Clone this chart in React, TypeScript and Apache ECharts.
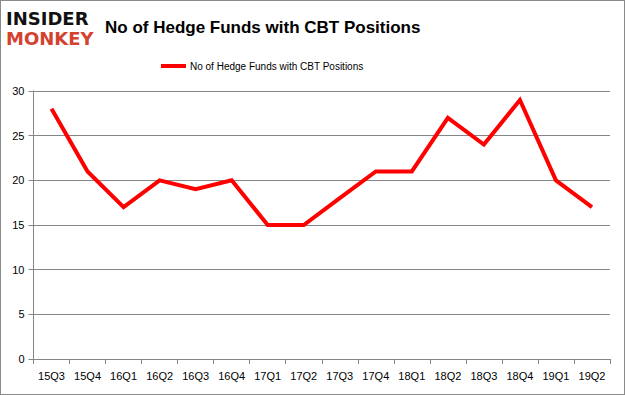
import React, { useEffect, useRef } from "react";
import * as echarts from "echarts";

const categories = ["15Q3", "15Q4", "16Q1", "16Q2", "16Q3", "16Q4", "17Q1", "17Q2", "17Q3", "17Q4", "18Q1", "18Q2", "18Q3", "18Q4", "19Q1", "19Q2"];
const hedgeFunds = [28, 21, 17, 20, 19, 20, 15, 15, 18, 21, 21, 27, 24, 29, 20, 17];
const seriesName = "No of Hedge Funds with CBT Positions";
const titleText = "No of Hedge Funds with CBT Positions";

export default function App() {
  const ref = useRef<HTMLDivElement>(null);
  useEffect(() => {
    if (!ref.current) return;
    const chart = echarts.init(ref.current, undefined, { renderer: "svg" });
    const font = "Liberation Sans, Arial, sans-serif";
    chart.setOption({
      animation: false,
      backgroundColor: "#ffffff",
      title: {
        text: titleText,
        left: 99,
        top: 13,
        textStyle: { fontFamily: font, fontSize: 17, fontWeight: "bold", color: "#000" },
      },
      legend: {
        data: [seriesName],
        top: 55,
        left: 155,
        itemWidth: 25,
        itemHeight: 4,
        itemGap: 4,
        icon: "rect",
        textStyle: { fontFamily: font, fontSize: 10, color: "#000", padding: [0, 0, 0, -1] },
      },
      graphic: [
        {
          type: "text",
          left: 5,
          top: 8,
          style: { text: "INSIDER", fontFamily: "DejaVu Sans, sans-serif", fontSize: 18, fontWeight: 900, fill: "#111" },
        },
        {
          type: "text",
          left: 5,
          top: 28,
          style: { text: "MONKEY", fontFamily: "DejaVu Sans, sans-serif", fontSize: 18, fontWeight: 900, fill: "#d4412f" },
        },
      ],
      grid: { left: 32.5, right: 14, top: 90, bottom: 35, containLabel: false },
      xAxis: {
        type: "category",
        data: categories,
        boundaryGap: true,
        axisLine: { lineStyle: { color: "#868686", width: 1 } },
        axisTick: { show: true, alignWithLabel: false, length: 5, lineStyle: { color: "#868686" } },
        axisLabel: { fontFamily: font, fontSize: 11, color: "#000", margin: 11 },
      },
      yAxis: {
        type: "value",
        min: 0,
        max: 30,
        interval: 5,
        axisLine: { show: true, lineStyle: { color: "#868686", width: 1 } },
        axisTick: { show: true, length: 5, lineStyle: { color: "#868686" } },
        splitLine: { lineStyle: { color: "#868686", width: 1 } },
        axisLabel: { fontFamily: font, fontSize: 11, color: "#000", margin: 9 },
      },
      series: [
        {
          name: seriesName,
          type: "line",
          data: hedgeFunds,
          symbol: "none",
          lineStyle: { color: "#ff0000", width: 4, join: "miter" },
          itemStyle: { color: "#ff0000" },
        },
      ],
    });
    return () => chart.dispose();
  }, []);
  return (
    <div
      style={{
        position: "absolute",
        left: 0,
        top: 0,
        width: 625,
        height: 395,
        boxSizing: "border-box",
        border: "1px solid #8a8a8a",
        background: "#fff",
      }}
    >
      <div ref={ref} style={{ width: 623, height: 393 }} />
    </div>
  );
}
